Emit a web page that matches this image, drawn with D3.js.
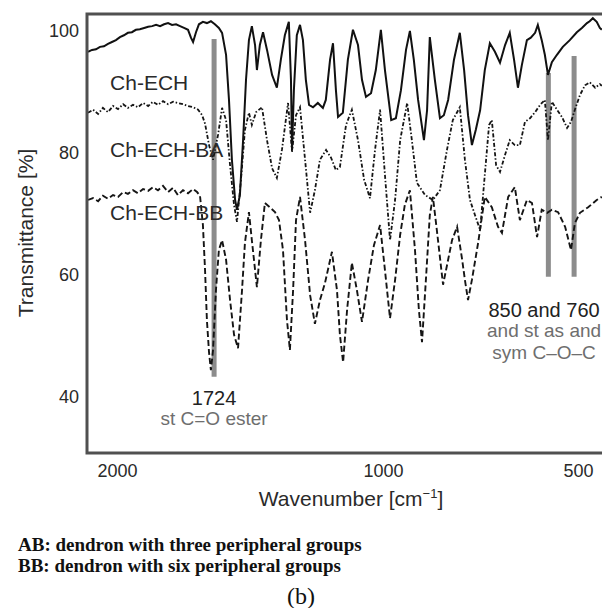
<!DOCTYPE html>
<html lang="en">
<head>
<meta charset="UTF-8">
<title>FTIR spectra</title>
<script src="https://d3js.org/d3.v7.min.js"></script>
<style>
  body { margin: 0; background: #fff; }
  svg text { font-family: "Liberation Sans", Arial, sans-serif; }
  svg text.serif { font-family: "Liberation Serif", "Times New Roman", serif; }
</style>
</head>
<body>
<svg id="chart" width="602" height="608"></svg>
<script>
// wavenumber (cm-1), transmittance (%)
const chEch = [
  [2109,96.6],[2094,96.9],[2079,97.0],[2064,97.4],[2049,97.5],[2034,97.9],[2019,98.2],[2004,98.5],
  [1989,99.0],[1974,99.3],[1959,99.7],[1944,99.8],[1929,100.2],[1914,100.3],[1898,100.5],[1883,100.7],
  [1868,100.8],[1853,101.0],[1838,100.8],[1823,101.1],[1808,101.3],[1793,101.0],[1778,101.1],[1763,100.8],
  [1748,100.5],[1733,100.2],[1722,98.9],[1714,98.2],[1703,99.8],[1692,101.1],[1677,101.5],[1662,101.3],
  [1647,101.6],[1632,101.1],[1617,100.5],[1605,99.7],[1590,96.1],[1579,88.7],[1568,78.9],[1556,72.3],
  [1549,70.7],[1538,73.1],[1526,82.1],[1515,92.0],[1504,98.5],[1493,100.8],[1481,97.7],[1474,93.6],
  [1463,97.7],[1451,99.8],[1436,96.9],[1417,92.8],[1399,90.7],[1384,95.3],[1369,99.3],[1354,101.5],
  [1346,92.0],[1342,80.5],[1335,90.3],[1324,99.3],[1312,101.0],[1301,98.5],[1290,92.0],[1278,87.9],
  [1263,87.5],[1245,88.2],[1226,87.4],[1215,88.7],[1199,95.3],[1188,98.0],[1177,90.3],[1169,85.9],
  [1151,86.6],[1132,95.3],[1113,100.2],[1094,97.7],[1079,92.0],[1064,89.2],[1045,89.8],[1027,93.6],
  [1008,100.2],[995,93.6],[979,85.4],[967,85.7],[954,90.3],[941,96.9],[931,100.0],[921,95.3],
  [910,88.7],[895,82.1],[887,87.0],[880,99.0],[867,92.0],[854,85.7],[844,86.2],[833,88.7],
  [818,95.3],[803,99.7],[792,93.6],[782,86.2],[772,81.3],[762,83.8],[751,87.0],[739,93.6],
  [726,98.0],[713,96.6],[700,94.8],[687,97.7],[675,99.7],[664,95.3],[654,90.7],[644,94.4],
  [631,98.5],[621,98.9],[610,99.7],[603,101.0],[593,98.5],[585,96.1],[577,92.8],[567,94.9],
  [554,96.1],[539,97.4],[521,98.5],[503,99.8],[490,100.5],[477,101.3],[470,101.6],[462,102.1],
  [452,101.5],[444,100.5],[439,100.2]
];

const chEchBa = [
  [2109,86.6],[2090,87.1],[2071,86.4],[2053,87.4],[2034,86.7],[2015,87.7],[1996,87.2],[1977,88.0],
  [1959,87.4],[1940,87.9],[1921,87.5],[1902,88.2],[1883,87.7],[1865,88.4],[1846,87.9],[1827,88.5],
  [1808,88.0],[1789,88.4],[1771,88.2],[1752,88.0],[1733,87.7],[1714,87.5],[1695,87.1],[1680,86.2],
  [1669,84.8],[1654,81.3],[1639,78.9],[1620,83.0],[1605,87.4],[1590,85.4],[1575,78.0],[1560,71.5],
  [1549,68.7],[1534,75.6],[1519,83.8],[1504,86.6],[1493,84.6],[1477,86.7],[1455,87.5],[1436,82.1],
  [1417,77.5],[1399,75.9],[1380,80.5],[1357,88.2],[1342,80.2],[1327,86.2],[1312,87.5],[1293,78.9],
  [1274,70.2],[1256,73.9],[1237,78.9],[1214,80.5],[1195,79.2],[1177,77.2],[1162,77.7],[1139,84.6],
  [1117,87.1],[1094,82.1],[1071,75.6],[1049,72.6],[1030,80.5],[1011,87.1],[995,76.4],[982,65.7],
  [969,72.3],[956,82.1],[938,88.2],[926,82.1],[913,75.1],[892,73.1],[872,72.3],[854,73.9],
  [836,80.5],[821,85.4],[803,87.5],[790,78.9],[777,72.3],[764,69.8],[751,67.4],[739,76.4],
  [728,84.6],[721,85.4],[710,78.0],[700,76.9],[687,79.7],[675,82.1],[662,81.3],[649,81.3],
  [636,85.1],[623,85.7],[610,86.7],[597,87.9],[585,88.7],[577,82.1],[567,88.4],[554,87.1],
  [541,85.9],[528,84.1],[518,85.1],[508,87.1],[495,89.5],[482,91.1],[470,91.6],[456,90.7],
  [444,91.3],[439,91.0]
];

const chEchBb = [
  [2109,72.3],[2090,72.6],[2071,72.1],[2053,73.0],[2034,72.5],[2015,73.1],[1996,72.8],[1977,73.6],
  [1959,73.3],[1940,73.9],[1921,73.4],[1902,74.1],[1883,73.8],[1865,74.4],[1846,73.9],[1827,74.6],
  [1808,73.6],[1789,74.3],[1771,73.1],[1752,73.9],[1733,73.4],[1714,74.1],[1699,73.6],[1688,73.0],
  [1677,68.2],[1669,60.8],[1662,52.6],[1654,47.3],[1647,44.4],[1639,47.7],[1628,57.5],[1617,64.1],
  [1605,65.7],[1590,62.5],[1575,55.9],[1560,50.2],[1545,48.0],[1530,57.5],[1519,65.3],[1504,70.3],
  [1493,65.7],[1474,58.0],[1459,65.7],[1444,71.8],[1425,71.1],[1406,70.3],[1391,69.0],[1376,64.1],
  [1361,52.6],[1350,47.7],[1338,57.5],[1327,69.0],[1312,72.8],[1293,65.7],[1274,56.7],[1256,52.0],
  [1237,55.9],[1218,58.7],[1192,63.8],[1173,57.5],[1162,50.2],[1150,45.7],[1135,54.3],[1117,62.0],
  [1098,57.5],[1079,52.3],[1056,59.2],[1034,64.9],[1011,68.2],[995,60.8],[982,52.9],[969,59.2],
  [956,66.6],[944,71.5],[931,73.9],[918,64.1],[908,54.3],[900,49.0],[890,59.2],[880,69.8],
  [872,72.8],[862,67.4],[846,58.4],[833,62.5],[823,65.7],[810,67.9],[797,62.5],[790,59.2],
  [782,55.9],[772,59.2],[756,65.3],[739,72.8],[721,71.1],[705,67.9],[695,66.9],[679,72.8],
  [662,74.4],[649,69.0],[631,72.3],[618,71.8],[605,66.2],[593,70.7],[579,70.2],[567,70.7],
  [551,70.3],[533,67.9],[518,64.1],[508,68.5],[495,70.2],[474,71.1],[452,72.3],[439,72.8]
];

const seriesNames = ["Ch-ECH", "Ch-ECH-BA", "Ch-ECH-BB"];
const xTicks = [2000, 1000, 500];
const yTicks = [100, 80, 60, 40];

// marker bars: wavenumber position, top and bottom (%)
const markerWn = [1635, 576, 510];
const markerTop = [98.7, 93.1, 95.9];
const markerBottom = [43.3, 59.7, 59.7];
const bandTitles = ["1724", "850 and 760"];
const bandNotes = [["st C=O ester"], ["and st as and", "sym C\u2013O\u2013C"]];

const svg = d3.select("#chart");

const frame = { left: 87, top: 14, right: 640, bottom: 453 };

// the printed axis is not uniform between its labels
const x = d3.scaleLinear().domain([2000, 1000, 500]).range([117, 383, 578]);
const y = d3.scaleLinear().domain([40, 100]).range([397, 31]);

svg.append("defs").append("clipPath").attr("id", "plotClip")
  .append("rect")
  .attr("x", frame.left + 1).attr("y", frame.top + 1)
  .attr("width", frame.right - frame.left).attr("height", frame.bottom - frame.top - 2);

const plot = svg.append("g").attr("clip-path", "url(#plotClip)");

// grey band markers
plot.selectAll(".marker")
  .data(markerWn)
  .enter().append("line")
  .attr("class", "marker")
  .attr("x1", d => x(d)).attr("x2", d => x(d))
  .attr("y1", (d, i) => y(markerTop[i])).attr("y2", (d, i) => y(markerBottom[i]))
  .attr("stroke", "#8c8c8c")
  .attr("stroke-width", 5);

const line = d3.line().x(d => x(d[0])).y(d => y(d[1]));

plot.append("path").datum(chEchBb)
  .attr("d", line).attr("fill", "none")
  .attr("stroke", "#151515").attr("stroke-width", 1.9)
  .attr("stroke-dasharray", "6,3");

plot.append("path").datum(chEchBa)
  .attr("d", line).attr("fill", "none")
  .attr("stroke", "#151515").attr("stroke-width", 1.8)
  .attr("stroke-dasharray", "4,2,1.5,2");

plot.append("path").datum(chEch)
  .attr("d", line).attr("fill", "none")
  .attr("stroke", "#111").attr("stroke-width", 2);

// frame
svg.append("rect")
  .attr("x", frame.left).attr("y", frame.top)
  .attr("width", frame.right - frame.left).attr("height", frame.bottom - frame.top)
  .attr("fill", "none").attr("stroke", "#505050").attr("stroke-width", 3);

// axes
const xAxis = svg.append("g")
  .attr("transform", `translate(0,${frame.bottom})`)
  .call(d3.axisBottom(x).tickValues(xTicks).tickSize(0).tickPadding(11).tickFormat(d3.format("d")));
xAxis.select(".domain").remove();
xAxis.selectAll("text").attr("font-size", 18).attr("fill", "#2a2a2a");

const yAxis = svg.append("g")
  .attr("transform", `translate(${frame.left},0)`)
  .call(d3.axisLeft(y).tickValues(yTicks).tickSize(0).tickPadding(8));
yAxis.select(".domain").remove();
yAxis.selectAll("text").attr("font-size", 18).attr("fill", "#2a2a2a");

// axis titles
const xTitle = svg.append("text")
  .attr("x", 351).attr("y", 506)
  .attr("text-anchor", "middle")
  .attr("font-size", 21).attr("fill", "#2a2a2a");
xTitle.append("tspan").text("Wavenumber [cm");
xTitle.append("tspan").attr("font-size", 13).attr("dy", -8).text("\u22121");
xTitle.append("tspan").attr("dy", 8).text("]");

svg.append("text")
  .attr("transform", "translate(33,233) rotate(-90)")
  .attr("text-anchor", "middle")
  .attr("font-size", 21).attr("fill", "#2a2a2a")
  .text("Transmittance [%]");

// series labels
const labelAt = [[2026, 90.3], [2026, 79.3], [2026, 69.0]];
svg.selectAll(".slabel")
  .data(seriesNames)
  .enter().append("text")
  .attr("class", "slabel")
  .attr("x", (d, i) => x(labelAt[i][0]))
  .attr("y", (d, i) => y(labelAt[i][1]))
  .attr("font-size", 21).attr("fill", "#2a2a2a")
  .text(d => d);

// band annotations
const bandAt = [[1635, 38.7], [587, 53.1]];
bandTitles.forEach((t, i) => {
  const cx = x(bandAt[i][0]);
  const by = y(bandAt[i][1]);
  svg.append("text")
    .attr("x", cx).attr("y", by)
    .attr("text-anchor", "middle")
    .attr("font-size", 20).attr("fill", "#222")
    .text(t);
  bandNotes[i].forEach((n, j) => {
    svg.append("text")
      .attr("x", cx).attr("y", by + 20 + j * 22)
      .attr("text-anchor", "middle")
      .attr("font-size", 19).attr("fill", "#6e6e6e")
      .text(n);
  });
});

// footnotes
const notes = ["AB: dendron with three peripheral groups", "BB: dendron with six peripheral groups"];
svg.selectAll(".note")
  .data(notes)
  .enter().append("text")
  .attr("class", "note serif")
  .attr("x", 18).attr("y", (d, i) => 551 + i * 21)
  .attr("font-weight", "bold")
  .attr("font-size", 19).attr("fill", "#111")
  .text(d => d);

svg.append("text")
  .attr("class", "serif")
  .attr("x", 301).attr("y", 604)
  .attr("text-anchor", "middle")
  .attr("font-size", 24).attr("fill", "#111")
  .text("(b)");
</script>
</body>
</html>
